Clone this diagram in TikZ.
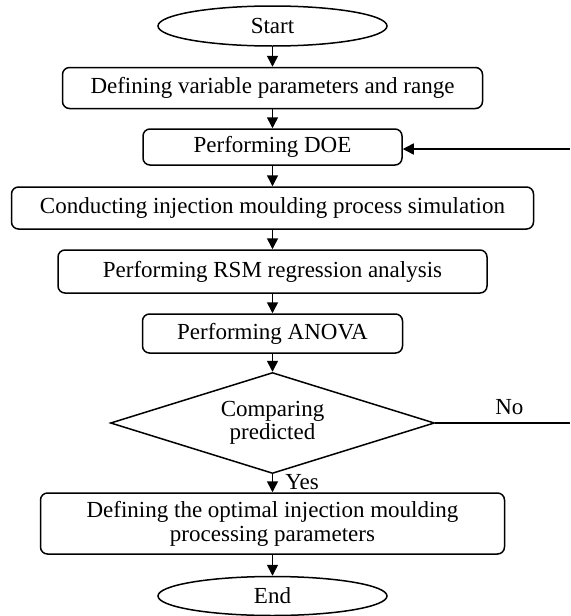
\documentclass[tikz,border=0pt]{standalone}
\usepackage{fontspec}
\setmainfont{Liberation Serif}
\usetikzlibrary{shapes.geometric,arrows.meta}
\begin{document}
\begin{tikzpicture}[x=0.5pt,y=-0.5pt,line width=0.75pt,
  every node/.style={font=\fontsize{11.5}{12}\selectfont,inner sep=0pt},
  procbox/.style={draw,rounded corners=3.5pt,minimum height=20.5pt},
  termnode/.style={draw,ellipse,minimum width=114.5pt,minimum height=20pt},
  decnode/.style={draw,diamond,shape aspect=3.2,minimum width=162pt,minimum height=50.5pt,align=center},
  flow/.style={-{Triangle[length=5.5pt,width=5.5pt]}}]
\useasboundingbox (0,0) rectangle (570,616);
\node[termnode] (start) at (272.5,26) {Start};
\node[procbox,minimum width=210pt] (def) at (272.5,88) {Defining variable parameters and range};
\node[procbox,minimum width=129.5pt,minimum height=18pt] (doe) at (272.5,147) {Performing DOE};
\node[procbox,minimum width=261pt,minimum height=21pt] (sim) at (272.5,208) {Conducting injection moulding process simulation};
\node[procbox,minimum width=214.5pt,minimum height=21.5pt] (rsm) at (272.5,271.5) {Performing RSM regression analysis};
\node[procbox,minimum width=130pt,minimum height=19.5pt] (anova) at (272.5,333.5) {Performing ANOVA};
\node[decnode] (cmp) at (272.5,423) {Comparing\\[-0.5pt]predicted};
\node[procbox,minimum width=232pt,minimum height=30.5pt,align=center] (opt) at (272.5,523.5) {Defining the optimal injection moulding\\processing parameters};
\node[termnode,minimum height=19.5pt] (end) at (272.5,596) {End};
\coordinate (noend) at (570,423);
\coordinate (backin) at (570,149);
\draw[flow] (start) -- (def);
\draw[flow] (def) -- (doe);
\draw[flow] (doe) -- (sim);
\draw[flow] (sim) -- (rsm);
\draw[flow] (rsm) -- (anova);
\draw[flow] (anova) -- (cmp);
\draw[flow] (cmp) -- node[right=6pt,pos=0.45] (yes) {Yes} (opt);
\draw[flow] (opt) -- (end);
\draw (cmp.east) -- node[above=4pt,pos=0.55] (no) {No} (noend);
\draw[flow] (backin) -- (doe.east |- backin);
\end{tikzpicture}
\end{document}
